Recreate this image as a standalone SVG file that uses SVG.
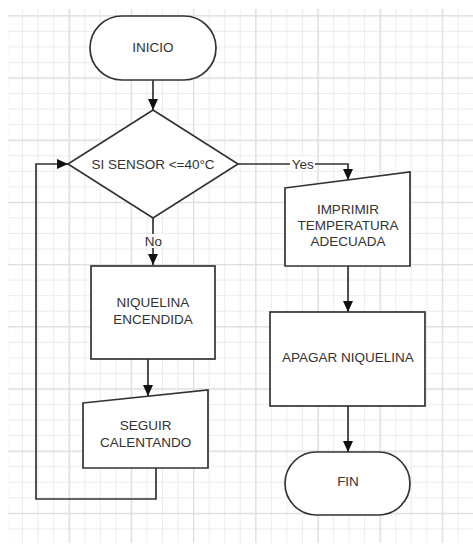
<svg xmlns="http://www.w3.org/2000/svg" width="473" height="545" viewBox="0 0 473 545">
<style>
.shape{fill:#ffffff;stroke:#333333;stroke-width:1.7}
.conn{fill:none;stroke:#333333;stroke-width:1.7}
.lbl{font-family:"Liberation Sans",Arial,sans-serif;font-size:13.5px;fill:#333333;text-anchor:middle}
.bg{fill:#ffffff}
</style>
<defs>
<pattern id="minor" patternUnits="userSpaceOnUse" x="6.5" y="15.3" width="15.55" height="15.55">
<rect x="0" y="0" width="15.55" height="1" fill="#ececec"/>
<rect x="0" y="0" width="1" height="15.55" fill="#ececec"/>
</pattern>
<pattern id="major" patternUnits="userSpaceOnUse" x="6.4" y="15.2" width="62.2" height="62.2">
<rect x="0" y="0" width="62.2" height="1.3" fill="#dedede"/>
<rect x="0" y="0" width="1.3" height="62.2" fill="#dedede"/>
</pattern>
<marker id="arr" markerUnits="userSpaceOnUse" markerWidth="11" markerHeight="10" refX="11" refY="5" orient="auto">
<path d="M0,0 L11,5 L0,10 z" fill="#111111"/>
</marker>
</defs>
<rect x="0" y="0" width="473" height="545" fill="#ffffff"/>
<g id="grid">
<rect x="8" y="9" width="465" height="534" fill="url(#minor)"/>
<rect x="8" y="9" width="465" height="534" fill="url(#major)"/>
</g>
<g id="connectors">
<path class="conn" d="M153,80 V110" marker-end="url(#arr)"/>
<path class="conn" d="M238,164 H348 V180" marker-end="url(#arr)"/>
<path class="conn" d="M153,218 V265" marker-end="url(#arr)"/>
<path class="conn" d="M148,359 V396" marker-end="url(#arr)"/>
<path class="conn" d="M156,468 V499 H36 V164 H68" marker-end="url(#arr)"/>
<path class="conn" d="M348,266 V312" marker-end="url(#arr)"/>
<path class="conn" d="M348,406 V452" marker-end="url(#arr)"/>
<rect class="bg" x="290" y="157" width="25" height="14"/>
<text class="lbl" x="302.7" y="168.5">Yes</text>
<rect class="bg" x="143" y="234" width="21" height="14"/>
<text class="lbl" x="153.5" y="245.5">No</text>
</g>
<g id="inicio">
<rect class="shape" x="90" y="16" width="126" height="64" rx="32" ry="32"/>
<text class="lbl" x="153" y="51.7">INICIO</text>
</g>
<g id="decision">
<polygon class="shape" points="153,110 238,164 153,218 68,164"/>
<text class="lbl" x="153" y="169">SI SENSOR &lt;=40°C</text>
</g>
<g id="imprimir">
<polygon class="shape" points="285,188 410,172 410,266 285,266"/>
<text class="lbl" x="348" y="213.7">IMPRIMIR</text>
<text class="lbl" x="348" y="229.9">TEMPERATURA</text>
<text class="lbl" x="348" y="246">ADECUADA</text>
</g>
<g id="apagar">
<rect class="shape" x="270" y="312" width="155" height="94"/>
<text class="lbl" x="348" y="362">APAGAR NIQUELINA</text>
</g>
<g id="fin">
<rect class="shape" x="285" y="452" width="125" height="63" rx="31.5" ry="31.5"/>
<text class="lbl" x="348" y="486.4">FIN</text>
</g>
<g id="niquelina">
<rect class="shape" x="91" y="266" width="124" height="93"/>
<text class="lbl" x="153" y="307">NIQUELINA</text>
<text class="lbl" x="153" y="324">ENCENDIDA</text>
</g>
<g id="seguir">
<polygon class="shape" points="83,403 208,390 208,468 83,468"/>
<text class="lbl" x="145.7" y="430.4">SEGUIR</text>
<text class="lbl" x="145.7" y="447.4">CALENTANDO</text>
</g>
</svg>
